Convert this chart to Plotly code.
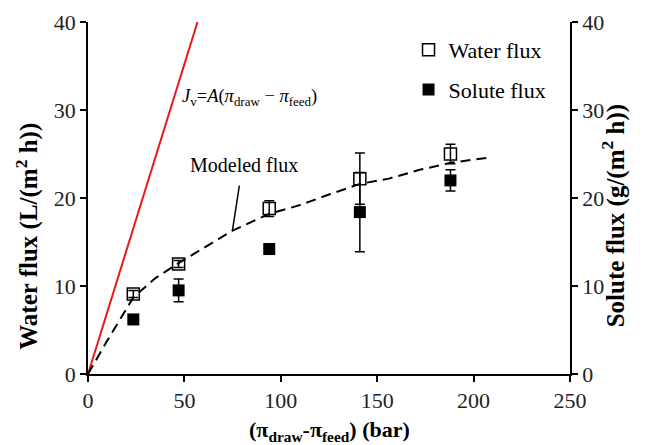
import plotly.graph_objects as go

# Data
dpi_x = [23.5, 47, 94, 141, 188]
water_flux = [9.1, 12.5, 18.8, 22.2, 25.0]
water_err = [0.4, 0.4, 0.9, 2.9, 1.1]
solute_flux = [6.2, 9.5, 14.2, 18.4, 22.0]
solute_err = [0.0, 1.3, 0.0, 4.5, 1.2]

model_x = [0, 10, 23.5, 35, 47, 60, 75, 94, 110, 125, 141, 156, 172, 188, 208]
model_y = [0, 3.8, 8.7, 10.9, 12.6, 14.3, 16.3, 18.2, 19.2, 20.4, 21.6, 22.2, 23.2, 24.0, 24.6]

ideal_x = [0, 56.8]
ideal_y = [0, 40]

x_ticks = [0, 50, 100, 150, 200, 250]
y_ticks = [0, 10, 20, 30, 40]

FONT = "Liberation Serif"

fig = go.Figure()

fig.add_trace(go.Scatter(x=ideal_x, y=ideal_y, mode="lines",
                         line=dict(color="#e8191c", width=2), showlegend=False))
fig.add_trace(go.Scatter(x=model_x, y=model_y, mode="lines",
                         line=dict(color="black", width=2, dash="10px,6px"),
                         showlegend=False))
fig.add_trace(go.Scatter(x=dpi_x, y=water_flux, mode="markers", name="Water flux",
                         legendgroup="a",
                         marker=dict(symbol="square-open", size=12, color="black",
                                     line=dict(width=1.5)),
                         error_y=dict(type="data", array=water_err, color="black",
                                      thickness=1.5, width=5)))
fig.add_trace(go.Scatter(x=dpi_x, y=solute_flux, mode="markers", name="Solute flux",
                         yaxis="y2", legendgroup="b",
                         marker=dict(symbol="square", size=12, color="black"),
                         error_y=dict(type="data", array=solute_err, color="black",
                                      thickness=1.5, width=5)))

axis_common = dict(showline=True, linecolor="black", linewidth=1.5, ticks="outside",
                   ticklen=6, tickwidth=1.5, tickcolor="black", showgrid=False,
                   zeroline=False, automargin=False,
                   tickfont=dict(family=FONT, size=22, color="#222"))

fig.update_layout(
    width=650, height=445,
    margin=dict(l=80, r=88, t=14, b=79),
    plot_bgcolor="white", paper_bgcolor="white",
    font=dict(family=FONT, color="black"),
    xaxis=dict(range=[0, 250], tickvals=x_ticks, **axis_common),
    yaxis=dict(range=[0, 40], tickvals=y_ticks, **axis_common),
    yaxis2=dict(range=[0, 40], tickvals=y_ticks, overlaying="y", side="right",
                **axis_common),
    legend=dict(x=0.665, y=0.98, xanchor="left", yanchor="top",
                traceorder="grouped", tracegroupgap=8,
                font=dict(family=FONT, size=22, color="black"),
                bgcolor="rgba(0,0,0,0)", itemwidth=30),
    showlegend=True,
)

# Axis titles
fig.add_annotation(x=0.5, y=-0.162, xref="paper", yref="paper", showarrow=False,
                   xanchor="center", yanchor="middle",
                   text="<b>(π<sub>draw</sub>-π<sub>feed</sub>) (bar)</b>",
                   font=dict(family=FONT, size=22, color="black"))
fig.add_annotation(x=-0.127, y=0.392, xref="paper", yref="paper", showarrow=False,
                   xanchor="center", yanchor="middle", textangle=-90,
                   text="<b>Water flux (L/(m<sup>2</sup> h))</b>",
                   font=dict(family=FONT, size=25, color="black"))
fig.add_annotation(x=1.092, y=0.449, xref="paper", yref="paper", showarrow=False,
                   xanchor="center", yanchor="middle", textangle=-90,
                   text="<b>Solute flux (g/(m<sup>2</sup> h))</b>",
                   font=dict(family=FONT, size=25, color="black"))

fig.add_annotation(x=83.7, y=31.4, xref="x", yref="y", showarrow=False,
                   text="<i>J</i><sub>v</sub>=<i>A</i>(<i>π</i><sub>draw</sub> − <i>π</i><sub>feed</sub>)",
                   font=dict(family=FONT, size=18.5, color="black"))
fig.add_annotation(x=81, y=23.8, xref="x", yref="y", showarrow=False,
                   text="Modeled flux", font=dict(family=FONT, size=20, color="black"))
fig.add_shape(type="line", x0=78.5, y0=21.4, x1=74.9, y1=16.3, xref="x", yref="y",
              line=dict(color="black", width=1.5))

fig.write_html("out.html")
